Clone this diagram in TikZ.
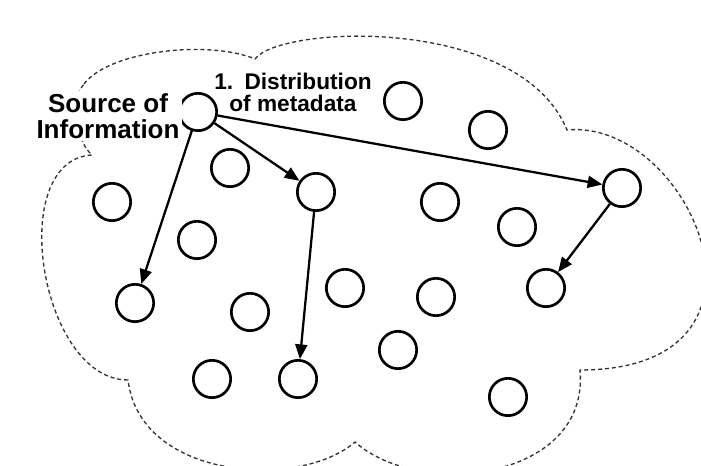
\documentclass[tikz,border=0pt]{standalone}
\usepackage{fontspec}
\setmainfont{Liberation Sans}
\usetikzlibrary{arrows.meta}

\begin{document}
\begin{tikzpicture}[x=0.75pt, y=-0.75pt, >={Triangle[length=11pt,width=9pt]},
  peer/.style={circle, draw, line width=2pt, minimum size=28pt, inner sep=0pt},
  cloudline/.style={draw=black!80, line width=1pt, dash pattern=on 3pt off 2.2pt},
  flow/.style={->, line width=1.7pt}]

\useasboundingbox (0,0) rectangle (701,466);

% Nuvola (rete)
\begin{scope}
  \clip (0,0) rectangle (701,466);
  \path[cloudline] (84,84) .. controls (110,50) and (210,40) .. (255,59)
    .. controls (280,25) and (520,15) .. (567,130)
    .. controls (690,118) and (800,370) .. (580,370)
    .. controls (590,480) and (420,500) .. (355,442)
    .. controls (300,490) and (140,480) .. (128,380)
    .. controls (40,380) and (5,160) .. (92,155)
    .. controls (75,140) and (70,100) .. (84,84);
\end{scope}

% Nodi della rete
\node[peer] (src) at (198,112) {};
\node[peer] (hopA) at (316,192) {};
\node[peer] (hopB) at (622,188) {};
\node[peer] (leafA) at (135,303) {};
\node[peer] (leafB) at (298,379) {};
\node[peer] (leafC) at (546,288) {};

\foreach \name/\x/\y in {p1/403/101, p2/488/130, p3/230/168, p4/112/202,
                         p5/440/202, p6/517/227, p7/197/240, p8/250/312,
                         p9/345/288, p10/436/297, p11/398/350, p12/212/379,
                         p13/508/397}
  \node[peer] (\name) at (\x,\y) {};

% Etichette
\node[font={\fontsize{19.5pt}{19.5pt}\selectfont\bfseries}, align=center,
      fill=white, inner sep=2pt] (srclabel) at (108,116) {Source of\\Information};
\node[font={\fontsize{17pt}{16.5pt}\selectfont\bfseries}, align=center]
      (distlabel) at (293,92) {1.\enspace Distribution\\of metadata};

% Distribuzione dei metadati
\draw[flow] (src) -- (leafA);
\draw[flow] (src) -- (hopA);
\draw[flow] (src) -- (hopB);
\draw[flow] (hopA) -- (leafB);
\draw[flow] (hopB) -- (leafC);

\end{tikzpicture}
\end{document}
